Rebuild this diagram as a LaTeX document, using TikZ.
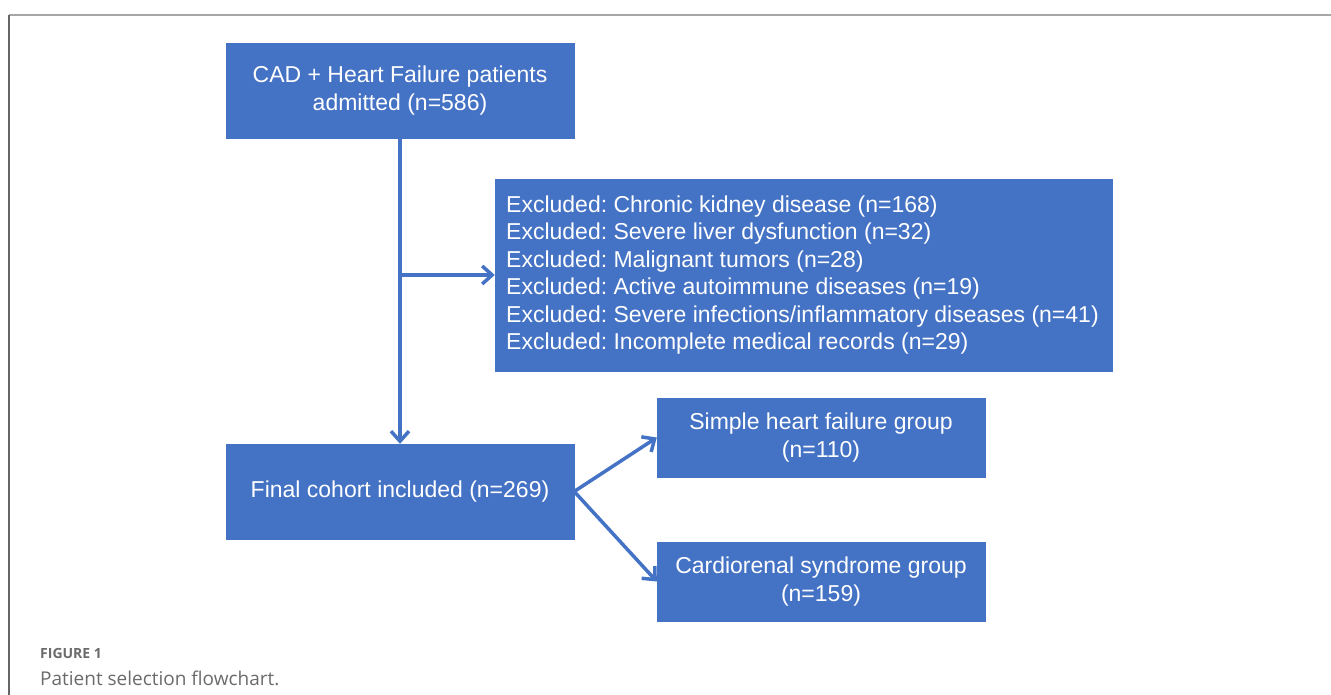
\documentclass[tikz,border=0pt]{standalone}
\usepackage{fontspec}
\setmainfont{Liberation Sans}
\newfontfamily\capfont{Open Sans}
\usetikzlibrary{arrows.meta}
\definecolor{boxblue}{HTML}{4472C4}
\definecolor{capgray}{HTML}{6B6B6B}
\frenchspacing
\tikzset{
  bluebox/.style={fill=boxblue, draw=boxblue, text=white, inner sep=0pt,
    font=\fontsize{23}{27.4}\selectfont, align=center},
  boxtext/.style={text=white, inner sep=0pt, font=\fontsize{23}{27.4}\selectfont, align=left},
  flow/.style={draw=boxblue, line width=3.5pt,
    -{Straight Barb[length=10pt,width=18pt,line width=3.5pt]}},
}
\begin{document}
\begin{tikzpicture}[x=1pt,y=-1pt]
\useasboundingbox (0,0) rectangle (1331,695);
\fill[white] (0,0) rectangle (1331,695);
\draw[color=black!35, line width=2pt] (9,15) -- (1331,15);
\draw[color=black!60, line width=1.5pt] (9,15) -- (9,695);

\node[bluebox, minimum width=348pt, minimum height=95pt] (top) at (400,90.5)
  {CAD + Heart Failure patients\\admitted (n=586)};
\node[bluebox, minimum width=617pt, minimum height=192pt] (excl) at (803.5,275) {};
\node[boxtext, anchor=west] (excltext) at (506,275)
  {Excluded: Chronic kidney disease (n=168)\\
   Excluded: Severe liver dysfunction (n=32)\\
   Excluded: Malignant tumors (n=28)\\
   Excluded: Active autoimmune diseases (n=19)\\
   Excluded: Severe infections/inflammatory diseases (n=41)\\
   Excluded: Incomplete medical records (n=29)};
\node[bluebox, minimum width=348pt, minimum height=95pt] (final) at (400,491.5)
  {Final cohort included (n=269)};
\node[bluebox, minimum width=328pt, minimum height=79pt] (simple) at (821,437.5)
  {Simple heart failure group\\(n=110)};
\node[bluebox, minimum width=328pt, minimum height=79pt] (cardio) at (821,581.5)
  {Cardiorenal syndrome group\\(n=159)};

\coordinate (branch) at (400,275);
\draw[flow] (top.south) -- (final.north);
\draw[flow] (branch) -- (excl.west);
\draw[flow] (final.east) -- (simple.west);
\draw[flow] (final.east) -- (cardio.west);

\node[anchor=base west, inner sep=0pt, text=capgray, font=\capfont\bfseries\fontsize{14}{16}\selectfont] (figlabel) at (40,658) {FIGURE 1};
\node[anchor=base west, inner sep=0pt, text=capgray, font=\capfont\fontsize{19}{22}\selectfont] (figcap) at (40,685) {Patient selection flowchart.};
\end{tikzpicture}
\end{document}
